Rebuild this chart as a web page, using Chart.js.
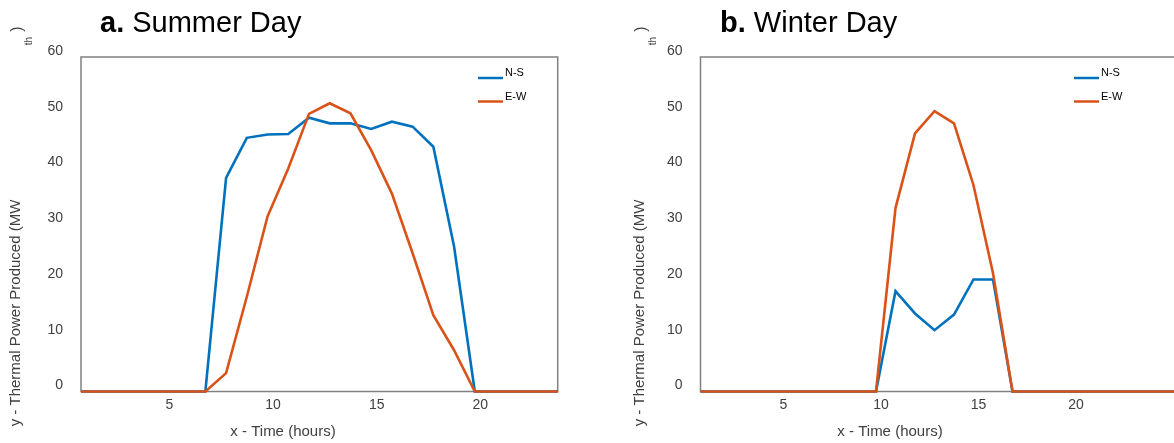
<!DOCTYPE html>
<html>
<head>
<meta charset="utf-8">
<title>Thermal power produced - summer and winter day</title>
<script src="https://cdn.jsdelivr.net/npm/chart.js@4.4.1/dist/chart.umd.min.js"></script>
<style>
    html, body { margin: 0; padding: 0; background: #fff; overflow: hidden; }
    #wrap { position: relative; width: 1174px; height: 443px; overflow: hidden; }
    canvas { position: absolute; top: 0; }
    #summer { left: 0; }
    #winter { left: 620px; }
</style>
</head>
<body>
<div id="wrap">
    <canvas id="summer" width="600" height="443"></canvas>
    <canvas id="winter" width="580" height="443"></canvas>
</div>
<script>
'use strict';

// hours of the day
const summerHours = [1, 2, 3, 4, 5, 6, 7, 8, 9, 10, 11, 12, 13, 14, 15, 16, 17, 18, 19, 20, 21, 22, 23, 24];
const winterHours = [1, 2, 3, 4, 5, 6, 7, 8, 9, 10, 11, 12, 13, 14, 15, 16, 17, 18, 19, 20, 21, 22, 23, 24, 25, 26];

// thermal power (MWth)
const summerNS = [0, 0, 0, 0, 0, 0, 0, 38.3, 45.5, 46.1, 46.2, 49.1, 48.1, 48.1, 47.1, 48.4, 47.5, 43.9, 26.0, 0, 0, 0, 0, 0];
const summerEW = [0, 0, 0, 0, 0, 0, 0, 3.3, 17.0, 31.4, 40.0, 49.8, 51.7, 49.9, 43.3, 35.5, 24.8, 13.7, 7.4, 0, 0, 0, 0, 0];
const winterNS = [0, 0, 0, 0, 0, 0, 0, 0, 0, 0, 18.0, 14.0, 11.0, 13.8, 20.1, 20.1, 0, 0, 0, 0, 0, 0, 0, 0, 0, 0];
const winterEW = [0, 0, 0, 0, 0, 0, 0, 0, 0, 0, 32.9, 46.3, 50.3, 48.1, 37.0, 21.2, 0, 0, 0, 0, 0, 0, 0, 0, 0, 0];

const seriesLabels = ['N-S', 'E-W'];
const seriesColors = ['#0072BD', '#D95319'];
const yTicks = [0, 10, 20, 30, 40, 50, 60];
const xTicks = [5, 10, 15, 20];

const FONT = '"Liberation Sans", Arial, sans-serif';

function points(xs, ys) {
    return xs.map(function(x, i) { return { x: x, y: ys[i] }; });
}

// box, titles, legend
const decor = {
    id: 'decor',
    beforeDatasetsDraw(chart, args, o) {
        let a = chart.chartArea;
        let ctx = chart.ctx;
        ctx.save();
        ctx.strokeStyle = '#808080';
        ctx.lineWidth = 1.5;
        ctx.strokeRect(a.left, a.top, a.right - a.left, a.bottom - a.top);
        ctx.restore();
    },
    afterDraw(chart, args, o) {
        let a = chart.chartArea;
        let ctx = chart.ctx;
        ctx.save();

        // title: bold letter + normal text
        ctx.fillStyle = '#000';
        ctx.textBaseline = 'alphabetic';
        ctx.textAlign = 'left';
        ctx.font = 'bold 29px ' + FONT;
        ctx.fillText(o.letter, o.titleX, 32);
        let w = ctx.measureText(o.letter + ' ').width;
        ctx.font = '29px ' + FONT;
        ctx.fillText(o.title, o.titleX + w, 32);

        // x axis title
        ctx.fillStyle = '#404040';
        ctx.font = '15px ' + FONT;
        ctx.textAlign = 'center';
        ctx.textBaseline = 'middle';
        ctx.fillText('x - Time (hours)', o.xTitleX, 432);

        // y axis title, rotated (subscript drifts to the top)
        ctx.save();
        ctx.translate(o.yTitleX, 313);
        ctx.rotate(-Math.PI / 2);
        ctx.fillText('y - Thermal Power Produced (MW', 0, 0);
        ctx.restore();

        ctx.save();
        ctx.translate(o.yTitleX + 13, 41);
        ctx.rotate(-Math.PI / 2);
        ctx.font = '10px ' + FONT;
        ctx.fillText('th', 0, 0);
        ctx.restore();

        ctx.save();
        ctx.translate(o.yTitleX + 2, 29);
        ctx.rotate(-Math.PI / 2);
        ctx.font = '16px ' + FONT;
        ctx.fillText(')', 0, 0);
        ctx.restore();

        // legend
        ctx.font = '11px ' + FONT;
        ctx.textAlign = 'left';
        chart.data.datasets.forEach(function(ds, i) {
            let ly = a.top + 21 + i * 23.5;
            let lx = a.left + o.legendX;
            ctx.strokeStyle = ds.borderColor;
            ctx.lineWidth = 2.5;
            ctx.beginPath();
            ctx.moveTo(lx, ly);
            ctx.lineTo(lx + 25, ly);
            ctx.stroke();
            ctx.fillStyle = '#000';
            ctx.fillText(ds.label, lx + 27, ly - 5);
        });

        ctx.restore();
    }
};

function makeChart(id, xs, ns, ew, o) {
    let ctx = document.getElementById(id).getContext('2d');
    return new Chart(ctx, {
        type: 'line',
        data: {
            datasets: [
                {
                    label: seriesLabels[0],
                    data: points(xs, ns),
                    borderColor: seriesColors[0],
                    borderWidth: 2.6,
                    pointRadius: 0,
                    tension: 0,
                    clip: false,
                    order: 1,
                },
                {
                    label: seriesLabels[1],
                    data: points(xs, ew),
                    borderColor: seriesColors[1],
                    borderWidth: 2.6,
                    pointRadius: 0,
                    tension: 0,
                    clip: false,
                    order: 0,
                },
            ]
        },
        options: {
            responsive: false,
            animation: false,
            events: [],
            layout: {
                padding: { left: 0, top: 57, right: o.padRight, bottom: 0 }
            },
            scales: {
                x: {
                    type: 'linear',
                    min: 1,
                    max: o.xMax,
                    grid: { display: false, drawTicks: false },
                    border: { display: false },
                    afterBuildTicks: function(s) { s.ticks = xTicks.map(function(v) { return { value: v }; }); },
                    afterFit: function(s) { s.height = 443 - 391.5; },
                    ticks: {
                        padding: 5,
                        labelOffset: o.xLabelOffset,
                        maxRotation: 0,
                        color: '#404040',
                        font: { family: FONT, size: 14 },
                    },
                },
                y: {
                    min: 0,
                    max: 60,
                    grid: { display: false, drawTicks: false },
                    border: { display: false },
                    afterBuildTicks: function(s) { s.ticks = yTicks.map(function(v) { return { value: v }; }); },
                    afterFit: function(s) { s.width = o.plotLeft; },
                    ticks: {
                        padding: 18,
                        labelOffset: -6,
                        color: '#404040',
                        font: { family: FONT, size: 14 },
                    },
                },
            },
            plugins: {
                legend: { display: false },
                tooltip: { enabled: false },
                title: { display: false },
                decor: o,
            }
        },
        plugins: [decor],
    });
}

makeChart('summer', summerHours, summerNS, summerEW, {
    letter: 'a.', title: 'Summer Day', titleX: 100,
    xTitleX: 283, yTitleX: 16, legendX: 397,
    plotLeft: 81, padRight: 600 - 557.7, xMax: 24, xLabelOffset: 5.5,
});

makeChart('winter', winterHours, winterNS, winterEW, {
    letter: 'b.', title: 'Winter Day', titleX: 100,
    xTitleX: 270, yTitleX: 20, legendX: 373.5,
    plotLeft: 80.5, padRight: 580 - 568, xMax: 26, xLabelOffset: 5,
});
</script>
</body>
</html>
